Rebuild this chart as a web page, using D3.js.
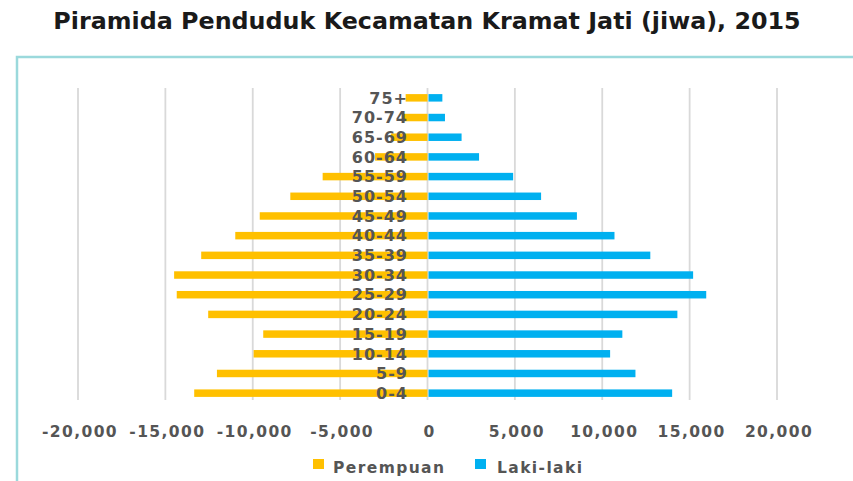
<!DOCTYPE html>
<html>
<head>
<meta charset="utf-8">
<script src="https://cdn.jsdelivr.net/npm/d3@7"></script>
<style>
  html,body{margin:0;padding:0;background:#fff;}
  svg{display:block;font-family:"DejaVu Sans",Verdana,sans-serif;}
</style>
</head>
<body>
<svg id="chart" width="853" height="481"></svg>
<script>
/* ----- data ------------------------------------------------- */
const ageGroups  = ['0-4','5-9','10-14','15-19','20-24','25-29','30-34','35-39',
                    '40-44','45-49','50-54','55-59','60-64','65-69','70-74','75+'];
const perempuan  = [13350,12050,9950,9400,12550,14350,14500,12950,
                    11000,9600,7850,6000,3000,2100,1400,1250];
const lakiLaki   = [14000,11900,10450,11150,14300,15950,15200,12750,
                    10700,8550,6500,4900,2950,1950,1000,850];
const xTicks     = [-20000,-15000,-10000,-5000,0,5000,10000,15000,20000];
const seriesNames = ['Perempuan','Laki-laki'];
const titleText  = 'Piramida Penduduk Kecamatan Kramat Jati (jiwa), 2015';

/* ----- setup ------------------------------------------------ */
const svg = d3.select('#chart'),
      W   = +svg.attr('width'),
      H   = +svg.attr('height'),
      C   = {orange:'#ffc000', blue:'#00b0f0', grid:'#d9d9d9', text:'#555555', frame:'#9bd9dc'};

const x = d3.scaleLinear().domain([-20000,20000]).range([78,777]);
const y = d3.scaleBand().domain(ageGroups).range([403,88]).paddingInner(0.62).paddingOuter(0.31);

/* frame */
svg.append('path')
  .attr('d',`M17,${H+2} L17,57 L${W+2},57`)
  .attr('fill','none').attr('stroke',C.frame).attr('stroke-width',2.5);

/* title */
const title = svg.append('text')
  .attr('x',427).attr('y',29).attr('text-anchor','middle')
  .style('font-weight','bold').style('font-size','20px').style('fill','#1a1a1a')
  .text(titleText);
const tw = title.node().getComputedTextLength();
title.style('font-size',(20*748/tw)+'px');

/* grid */
svg.append('g').selectAll('line').data(xTicks).join('line')
  .attr('x1',d=>x(d)).attr('x2',d=>x(d))
  .attr('y1',88).attr('y2',400)
  .attr('stroke',C.grid).attr('stroke-width',1.8);

/* bars */
const rows = ageGroups.map((a,i)=>({age:a, f:perempuan[i], m:lakiLaki[i]}));
const bars = svg.append('g');
bars.selectAll('.bar-f').data(rows).join('rect')
  .attr('class','bar-f')
  .attr('x',d=>x(-d.f)).attr('width',d=>x(0)-x(-d.f))
  .attr('y',d=>y(d.age)).attr('height',y.bandwidth())
  .attr('fill',C.orange);
bars.selectAll('.bar-m').data(rows).join('rect')
  .attr('class','bar-m')
  .attr('x',x(0)+1).attr('width',d=>x(d.m)-x(0)-1)
  .attr('y',d=>y(d.age)).attr('height',y.bandwidth())
  .attr('fill',C.blue);

/* category labels */
svg.append('g').selectAll('text').data(ageGroups).join('text')
  .attr('x',408).attr('y',d=>y(d)+y.bandwidth()/2)
  .attr('dy','0.36em').attr('text-anchor','end')
  .style('font-weight','bold').style('font-size','16px')
  .style('letter-spacing','1px').style('fill',C.text)
  .text(d=>d);

/* x axis labels */
const fmt = d3.format(',');
svg.append('g').selectAll('text').data(xTicks).join('text')
  .attr('x',d=>x(d)+2).attr('y',437).attr('text-anchor','middle')
  .style('font-weight','bold').style('font-size','15.5px')
  .style('letter-spacing','1.4px').style('fill',C.text)
  .text(d=>fmt(d).replace('−','-'));

/* legend */
const leg = svg.append('g');
const legItems = [
  {name:seriesNames[0], color:C.orange, sx:313, tx:333},
  {name:seriesNames[1], color:C.blue,   sx:475, tx:497}
];
leg.selectAll('rect').data(legItems).join('rect')
  .attr('x',d=>d.sx).attr('y',459).attr('width',11).attr('height',10)
  .attr('fill',d=>d.color);
leg.selectAll('text').data(legItems).join('text')
  .attr('x',d=>d.tx).attr('y',473)
  .style('font-weight','bold').style('font-size','15.5px')
  .style('letter-spacing','1.4px').style('fill',C.text)
  .text(d=>d.name);
</script>
</body>
</html>
